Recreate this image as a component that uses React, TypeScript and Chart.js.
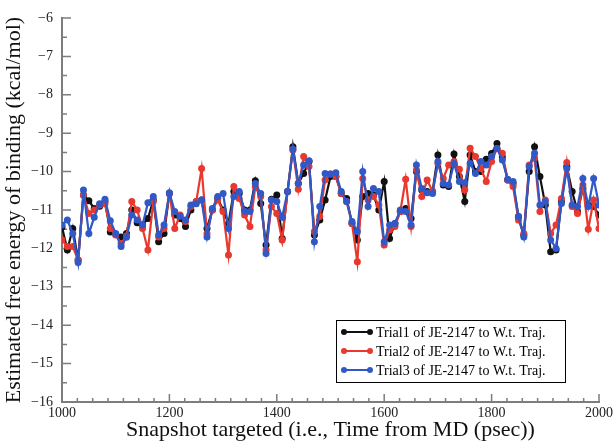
import React, { useEffect, useRef } from "react";
import { Chart, registerables } from "chart.js";

Chart.register(...registerables);

const snapshotTimes: number[] = [
  1000, 1010, 1020, 1030, 1040, 1050, 1060, 1070, 1080, 1090,
  1100, 1110, 1120, 1130, 1140, 1150, 1160, 1170, 1180, 1190,
  1200, 1210, 1220, 1230, 1240, 1250, 1260, 1270, 1280, 1290,
  1300, 1310, 1320, 1330, 1340, 1350, 1360, 1370, 1380, 1390,
  1400, 1410, 1420, 1430, 1440, 1450, 1460, 1470, 1480, 1490,
  1500, 1510, 1520, 1530, 1540, 1550, 1560, 1570, 1580, 1590,
  1600, 1610, 1620, 1630, 1640, 1650, 1660, 1670, 1680, 1690,
  1700, 1710, 1720, 1730, 1740, 1750, 1760, 1770, 1780, 1790,
  1800, 1810, 1820, 1830, 1840, 1850, 1860, 1870, 1880, 1890,
  1900, 1910, 1920, 1930, 1940, 1950, 1960, 1970, 1980, 1990,
  2000,
];

const trial1: number[] = [
  -11.44, -12.04, -11.48, -12.3, -10.61, -10.76, -10.96, -10.9, -10.78, -11.57,
  -11.63, -11.7, -11.61, -11.0, -11.33, -11.39, -11.22, -10.74, -11.83, -11.61,
  -10.57, -11.13, -11.22, -11.43, -11.0, -10.78, -10.74, -11.48, -11.0, -10.7,
  -11.0, -11.35, -10.52, -10.57, -11.0, -11.0, -10.24, -10.83, -11.91, -10.72,
  -10.61, -11.74, -10.52, -9.35, -10.31, -10.05, -9.74, -11.65, -11.26, -10.74,
  -10.13, -10.13, -10.57, -10.7, -11.35, -11.78, -10.65, -10.57, -10.61, -11.0,
  -10.26, -11.74, -11.35, -11.04, -10.96, -11.22, -10.0, -10.48, -10.52, -10.52,
  -9.57, -10.35, -10.39, -9.54, -10.13, -10.78, -9.57, -10.0, -10.0, -9.68,
  -9.53, -9.27, -9.62, -10.22, -10.31, -11.18, -11.65, -10.0, -9.35, -10.13,
  -10.87, -12.09, -12.04, -10.78, -9.87, -10.52, -11.04, -10.44, -10.87, -10.91,
  -11.13,
];

const trial2: number[] = [
  -11.78, -11.95, -11.95, -12.3, -10.61, -11.09, -11.0, -10.87, -10.84, -11.48,
  -11.65, -11.87, -11.68, -10.78, -11.0, -11.48, -12.04, -10.78, -11.7, -11.48,
  -10.57, -11.48, -11.13, -11.3, -10.91, -10.78, -9.92, -11.61, -11.0, -10.74,
  -11.04, -12.17, -10.39, -10.7, -11.13, -11.43, -10.39, -10.65, -12.04, -10.91,
  -11.09, -11.78, -10.52, -9.44, -10.46, -9.61, -9.87, -11.56, -11.17, -10.22,
  -10.06, -10.13, -10.57, -10.78, -11.35, -12.35, -10.18, -10.74, -10.65, -10.87,
  -11.91, -11.52, -11.43, -11.04, -10.2, -11.43, -9.96, -10.65, -10.22, -10.52,
  -9.79, -10.18, -9.83, -9.74, -9.94, -10.48, -9.39, -9.61, -9.92, -10.26,
  -9.74, -9.4, -9.52, -10.22, -10.39, -11.26, -11.61, -9.83, -9.65, -11.04,
  -10.74, -11.61, -11.39, -10.7, -9.76, -10.91, -11.09, -10.35, -11.5, -10.74,
  -11.48,
];

const trial3: number[] = [
  -11.39, -11.26, -11.61, -12.37, -10.48, -11.61, -11.19, -10.84, -10.72, -11.28,
  -11.61, -11.95, -11.71, -11.13, -11.26, -11.39, -10.81, -10.65, -11.65, -11.39,
  -10.55, -11.04, -11.16, -11.26, -10.87, -10.84, -10.74, -11.7, -10.96, -10.65,
  -10.57, -11.48, -10.65, -10.52, -11.03, -11.04, -10.31, -10.57, -12.13, -10.74,
  -10.78, -11.19, -10.52, -9.42, -10.31, -9.83, -9.72, -11.83, -10.91, -10.05,
  -10.06, -10.03, -10.52, -10.78, -11.3, -11.56, -10.0, -10.91, -10.44, -10.52,
  -11.83, -11.39, -11.35, -11.0, -11.04, -11.39, -9.83, -10.44, -10.55, -10.57,
  -9.74, -10.31, -10.35, -9.79, -10.26, -10.29, -9.79, -10.05, -9.74, -9.83,
  -9.61, -9.4, -9.7, -10.2, -10.26, -11.16, -11.7, -9.87, -9.52, -10.87,
  -10.78, -11.78, -12.0, -10.83, -9.92, -10.87, -10.91, -10.18, -10.91, -10.18,
  -10.87,
];

const seriesLabels: string[] = [
  "Trial1 of JE-2147 to W.t. Traj.",
  "Trial2 of JE-2147 to W.t. Traj.",
  "Trial3 of JE-2147 to W.t. Traj.",
];
const seriesColors: string[] = ["#111111", "#e9382d", "#3058c6"];

const xTitle = "Snapshot targeted (i.e., Time from MD (psec))";
const yTitle = "Estimated free energy of binding (kcal/mol)";
const xMin = 1000;
const xMax = 2000;
const xStep = 200;
const yMin = -16;
const yMax = -6;
const yStep = 1;

const FONT = "'Liberation Serif', 'DejaVu Serif', serif";
const AXIS_COLOR = "#7d7d7d";

const inwardTicks = {
  id: "inwardTicks",
  beforeDatasetsDraw(chart: any) {
    const { ctx, chartArea: a, scales } = chart;
    const xs = scales.x;
    const ys = scales.y;
    ctx.save();
    ctx.strokeStyle = AXIS_COLOR;
    ctx.lineWidth = 1.5;
    const xt: number[] = xs.ticks.map((t: any) => t.value);
    const yt: number[] = ys.ticks.map((t: any) => t.value);
    ctx.beginPath();
    for (let i = 0; i < xt.length; i++) {
      const px = xs.getPixelForValue(xt[i]);
      ctx.moveTo(px, a.bottom);
      ctx.lineTo(px, a.bottom - 8);
      if (i < xt.length - 1) {
        const n = 7;
        for (let j = 1; j < n; j++) {
          const v = xt[i] + ((xt[i + 1] - xt[i]) * j) / n;
          const pm = xs.getPixelForValue(v);
          ctx.moveTo(pm, a.bottom);
          ctx.lineTo(pm, a.bottom - 4);
        }
      }
    }
    for (let i = 0; i < yt.length; i++) {
      const py = ys.getPixelForValue(yt[i]);
      ctx.moveTo(a.left, py);
      ctx.lineTo(a.left + 9, py);
      if (i < yt.length - 1) {
        const pm = ys.getPixelForValue((yt[i] + yt[i + 1]) / 2);
        ctx.moveTo(a.left, pm);
        ctx.lineTo(a.left + 5, pm);
      }
    }
    ctx.stroke();
    ctx.restore();
  },
};

const boxLegend = {
  id: "boxLegend",
  afterDatasetsDraw(chart: any) {
    const { ctx, chartArea: a } = chart;
    const ds = chart.data.datasets;
    const w = 229;
    const rowH = 19;
    const h = 62;
    const left = a.right - 263;
    const top = a.bottom - 82;
    ctx.save();
    ctx.fillStyle = "#ffffff";
    ctx.fillRect(left, top, w, h);
    ctx.strokeStyle = "#000000";
    ctx.lineWidth = 1;
    ctx.strokeRect(left + 0.5, top + 0.5, w, h);
    ctx.font = `14px ${FONT}`;
    ctx.textBaseline = "middle";
    ctx.textAlign = "left";
    for (let i = 0; i < ds.length; i++) {
      const cy = top + 12 + i * rowH;
      const c = ds[i].borderColor;
      ctx.strokeStyle = c;
      ctx.lineWidth = 2;
      ctx.beginPath();
      ctx.moveTo(left + 8, cy);
      ctx.lineTo(left + 34, cy);
      ctx.stroke();
      ctx.fillStyle = c;
      for (const ex of [left + 8, left + 34]) {
        ctx.beginPath();
        ctx.arc(ex, cy, 3, 0, Math.PI * 2);
        ctx.fill();
      }
      ctx.fillStyle = "#000000";
      ctx.fillText(ds[i].label, left + 40, cy + 1);
    }
    ctx.restore();
  },
};

export default function App() {
  const canvasRef = useRef<HTMLCanvasElement | null>(null);

  useEffect(() => {
    const canvas = canvasRef.current;
    if (!canvas) return;
    const seriesValues = [trial1, trial2, trial3];
    const datasets = seriesValues.map((vals, i) => ({
      label: seriesLabels[i],
      data: snapshotTimes.map((t, k) => ({ x: t, y: vals[k] })),
      borderColor: seriesColors[i],
      backgroundColor: seriesColors[i],
      borderWidth: 2.2,
      pointRadius: 3.5,
      pointBorderWidth: 0,
      pointHoverRadius: 3.5,
      tension: 0,
      order: 3 - i,
    }));
    const chart = new Chart(canvas, {
      type: "line",
      data: { datasets },
      options: {
        responsive: false,
        animation: false,
        events: [],
        layout: { padding: { top: 18, right: 15, left: 0, bottom: 0 } },
        plugins: {
          legend: { display: false },
          tooltip: { enabled: false },
        },
        scales: {
          x: {
            type: "linear",
            min: xMin,
            max: xMax,
            afterFit: (s: any) => {
              s.height = 41;
            },
            grid: { display: false, drawTicks: false },
            border: { display: true, color: AXIS_COLOR, width: 2 },
            ticks: {
              stepSize: xStep,
              autoSkip: false,
              maxRotation: 0,
              padding: 3,
              color: "#222222",
              font: { family: FONT, size: 14 },
              callback: (v: any) => String(v),
            },
            title: {
              display: true,
              text: xTitle,
              color: "#111111",
              font: { family: FONT, size: 22 },
              padding: { top: 0, bottom: 0 },
            },
          },
          y: {
            type: "linear",
            min: yMin,
            max: yMax,
            afterFit: (s: any) => {
              s.width = 62;
            },
            grid: { display: false, drawTicks: false },
            border: { display: true, color: AXIS_COLOR, width: 2 },
            ticks: {
              stepSize: yStep,
              padding: 9,
              color: "#222222",
              font: { family: FONT, size: 14 },
              callback: (v: any) =>
                Number(v) < 0 ? "\u2212" + Math.abs(Number(v)) : String(v),
            },
            title: {
              display: true,
              text: yTitle,
              color: "#111111",
              font: { family: FONT, size: 22 },
              padding: { top: 1, bottom: 0 },
            },
          },
        },
      },
      plugins: [inwardTicks, boxLegend],
    });
    return () => chart.destroy();
  }, []);

  return (
    <div
      style={{
        position: "fixed",
        left: 0,
        top: 0,
        width: 616,
        height: 443,
        background: "#ffffff",
      }}
    >
      <canvas ref={canvasRef} width={616} height={443} style={{ display: "block" }} />
    </div>
  );
}
